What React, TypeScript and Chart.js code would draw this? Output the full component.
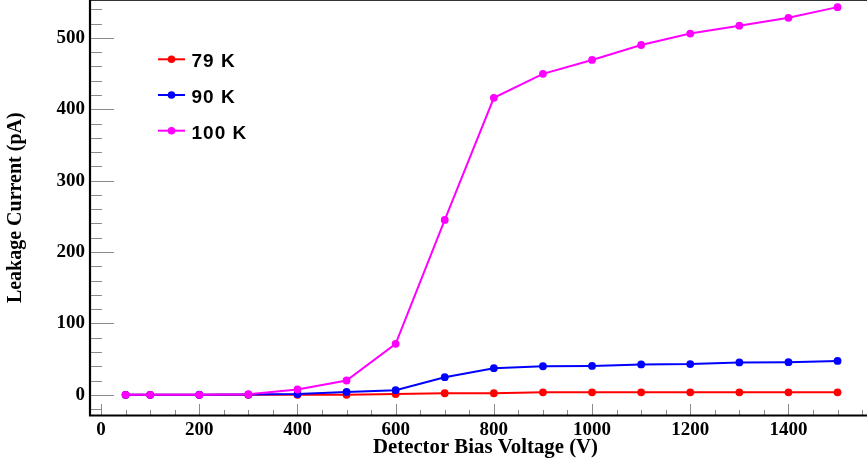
import { useEffect, useRef } from 'react';
import { Chart, registerables } from 'chart.js';

Chart.register(...registerables);

// ---- data ----
const BIAS_V = [50, 100, 200, 300, 400, 500, 600, 700, 800, 900, 1000, 1100, 1200, 1300, 1400, 1500];
const I_79K = [0, 0, 0, 0, 0, 0, 1, 2.2, 2.2, 3.4, 3.4, 3.4, 3.4, 3.4, 3.4, 3.4];
const I_90K = [0, 0, 0.1, 0.3, 1, 4, 6.5, 24.7, 37.3, 40, 40.5, 42.5, 43, 45.3, 45.7, 47.5];
const I_100K = [0, 0, 0, 0.8, 7.4, 20, 71.4, 245, 416, 449.6, 469, 490, 506, 517, 528, 543];
const SERIES_LABELS = ['79 K', '90 K', '100 K'];
const SERIES_COLORS = ['#ff0000', '#0000ff', '#ff00ff'];
const X_TICKS = [0, 200, 400, 600, 800, 1000, 1200, 1400];
const Y_TICKS = [0, 100, 200, 300, 400, 500];
const X_TITLE = 'Detector Bias Voltage (V)';
const Y_TITLE = 'Leakage Current (pA)';

const SERIF = "'Liberation Serif', 'Times New Roman', serif";
const SANS = "'Liberation Sans', Arial, sans-serif";

// the plot frame of the reference runs past the right edge of the picture
const FRAME_OVERHANG = 14;

const rootStyle = {
  id: 'rootStyle',
  afterLayout(chart: any) {
    const x = chart.scales.x;
    const a = chart.chartArea;
    x.right = a.right + FRAME_OVERHANG;
    x.width = x.right - x.left;
    a.right = x.right;
    a.width = a.right - a.left;
    x.configure();
  },
  beforeDatasetsDraw(chart: any) {
    const { ctx, chartArea: a, scales } = chart;
    const x = scales.x;
    const y = scales.y;
    ctx.save();
    ctx.strokeStyle = '#8a8a8a';
    ctx.lineWidth = 1;
    ctx.beginPath();
    for (let v = Math.ceil(y.min / 20) * 20; v <= y.max; v += 20) {
      const p = Math.round(y.getPixelForValue(v)) + 0.5;
      const len = v % 100 === 0 ? 24 : 12;
      ctx.moveTo(a.left, p);
      ctx.lineTo(a.left + len, p);
    }
    for (let v = Math.ceil(x.min / 50) * 50; v <= x.max; v += 50) {
      const p = Math.round(x.getPixelForValue(v)) + 0.5;
      const len = v % 200 === 0 ? 11.5 : 5.5;
      ctx.moveTo(p, a.bottom);
      ctx.lineTo(p, a.bottom - len);
    }
    ctx.stroke();
    ctx.restore();
  },
  afterDraw(chart: any) {
    const { ctx, chartArea: a } = chart;
    ctx.save();
    // top frame line
    ctx.strokeStyle = '#333333';
    ctx.lineWidth = 1;
    ctx.beginPath();
    ctx.moveTo(a.left, a.top + 0.5);
    ctx.lineTo(a.right, a.top + 0.5);
    ctx.stroke();
    // left and bottom axes
    ctx.strokeStyle = '#000000';
    ctx.lineWidth = 2.2;
    ctx.beginPath();
    ctx.moveTo(a.left, a.top);
    ctx.lineTo(a.left, a.bottom);
    ctx.lineTo(a.right, a.bottom);
    ctx.stroke();

    // legend
    const rows = [59.3, 95, 130.7];
    chart.data.datasets.forEach((ds: any, i: number) => {
      const cy = rows[i];
      ctx.strokeStyle = ds.borderColor;
      ctx.lineWidth = 2;
      ctx.beginPath();
      ctx.moveTo(158, cy);
      ctx.lineTo(185, cy);
      ctx.stroke();
      ctx.fillStyle = ds.borderColor;
      ctx.beginPath();
      ctx.arc(171.5, cy, 3.8, 0, Math.PI * 2);
      ctx.fill();
      ctx.fillStyle = '#000000';
      ctx.font = `bold 19px ${SANS}`;
      try { (ctx as any).letterSpacing = '1px'; } catch (e) {}
      ctx.textAlign = 'left';
      ctx.textBaseline = 'alphabetic';
      ctx.fillText(ds.label, 191.5, cy + 8);
      try { (ctx as any).letterSpacing = '0px'; } catch (e) {}
    });
    ctx.restore();
  },
};

export default function App() {
  const ref = useRef<HTMLCanvasElement>(null);
  useEffect(() => {
    document.body.style.margin = '0';
    const series = [I_79K, I_90K, I_100K];
    const chart = new Chart(ref.current as HTMLCanvasElement, {
      type: 'line',
      data: {
        datasets: series.map((vals, i) => ({
          label: SERIES_LABELS[i],
          data: BIAS_V.map((v, j) => ({ x: v, y: vals[j] })),
          borderColor: SERIES_COLORS[i],
          backgroundColor: SERIES_COLORS[i],
          pointBackgroundColor: SERIES_COLORS[i],
          pointBorderWidth: 0,
          pointRadius: 3.9,
          borderWidth: 2,
          tension: 0,
          order: 2 - i,
          clip: false as any,
        })),
      },
      options: {
        animation: false,
        responsive: false,
        devicePixelRatio: 1,
        layout: { autoPadding: false, padding: { left: 0, right: 0, top: 0, bottom: 0 } },
        plugins: { legend: { display: false }, tooltip: { enabled: false } },
        scales: {
          x: {
            type: 'linear',
            position: 'bottom',
            min: -22.5,
            max: 1588.5,
            afterBuildTicks: (s: any) => { s.ticks = X_TICKS.map((v) => ({ value: v })); },
            afterFit: (s: any) => { s.height = 50.5; s.paddingLeft = 0; s.paddingRight = 0; },
            grid: { display: false, drawTicks: false },
            border: { display: false },
            ticks: {
              color: '#000',
              padding: 3,
              maxRotation: 0,
              autoSkip: false,
              font: { family: SERIF, weight: 'bold', size: 19 },
              callback: (v: any) => String(v),
            },
            title: {
              display: true,
              text: X_TITLE,
              color: '#000',
              padding: { top: 0, bottom: 6 },
              font: { family: SERIF, weight: 'bold', size: 20.8 },
            },
          },
          y: {
            type: 'linear',
            position: 'left',
            min: -29,
            max: 553,
            afterBuildTicks: (s: any) => { s.ticks = Y_TICKS.map((v) => ({ value: v })); },
            afterFit: (s: any) => { s.width = 90; s.paddingTop = 0; s.paddingBottom = 0; },
            grid: { display: false, drawTicks: false },
            border: { display: false },
            ticks: {
              color: '#000',
              padding: 5,
              autoSkip: false,
              font: { family: SERIF, weight: 'bold', size: 19 },
              callback: (v: any) => String(v),
            },
            title: {
              display: true,
              text: Y_TITLE,
              color: '#000',
              padding: { top: 4, bottom: 0 },
              font: { family: SERIF, weight: 'bold', size: 20 },
            },
          },
        },
      } as any,
      plugins: [rootStyle],
    });
    return () => chart.destroy();
  }, []);
  return (
    <div style={{ position: 'absolute', left: 0, top: 0, width: 867, height: 466, overflow: 'hidden' }}>
      <canvas ref={ref} width={867} height={466} style={{ display: 'block', width: 867, height: 466 }} />
    </div>
  );
}
